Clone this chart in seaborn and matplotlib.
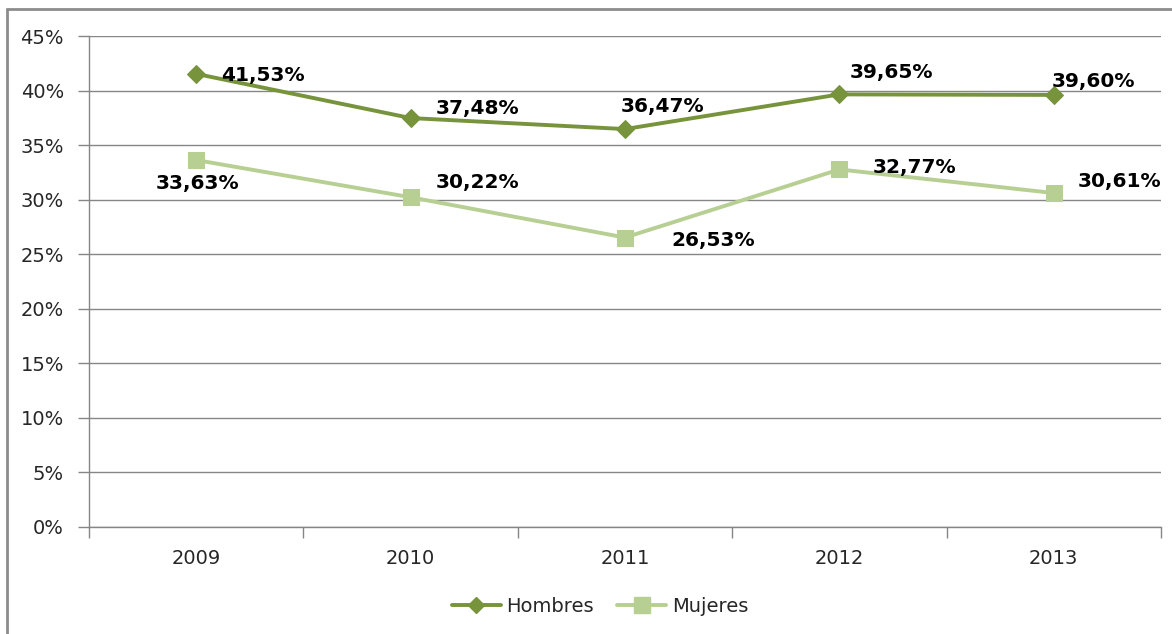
import pandas as pd
import matplotlib.pyplot as plt
import seaborn as sns
from matplotlib.lines import Line2D
from matplotlib.ticker import FixedLocator

# Data
years = ['2009', '2010', '2011', '2012', '2013']
hombres = [41.53, 37.48, 36.47, 39.65, 39.60]
mujeres = [33.63, 30.22, 26.53, 32.77, 30.61]

dark_green = '#77933C'
light_green = '#B7CF93'

sns.set_style('white')
plt.rcParams['font.family'] = ['DejaVu Sans']

fig = plt.figure(figsize=(11.72, 6.34), dpi=100)
W, H = 1172, 634
ax = fig.add_axes([89 / W, (H - 527) / H, (1161 - 89) / W, (527 - 36) / H])

x = list(range(len(years)))
df = pd.DataFrame({'x': x, 'Hombres': hombres, 'Mujeres': mujeres})

sns.lineplot(data=df, x='x', y='Hombres', ax=ax, color=dark_green, linewidth=2.8,
             marker='D', markersize=9, markeredgecolor=dark_green, label='Hombres')
sns.lineplot(data=df, x='x', y='Mujeres', ax=ax, color=light_green, linewidth=2.8,
             marker='s', markersize=12, markeredgecolor=light_green, label='Mujeres')

#Data labels (offsets in pixels)
off_h = [(67, -2), (67, 10), (37, 23), (52, 22), (40, 13)]
off_m = [(1, -23), (67, 15), (88, -3), (75, 2), (66, 12)]
for i, v in enumerate(hombres):
    ax.annotate(f'{v:.2f}%'.replace('.', ','), (i, v), textcoords='offset pixels',
                xytext=off_h[i], ha='center', va='center', fontsize=14.5,
                fontweight='bold', color='black')
for i, v in enumerate(mujeres):
    ax.annotate(f'{v:.2f}%'.replace('.', ','), (i, v), textcoords='offset pixels',
                xytext=off_m[i], ha='center', va='center', fontsize=14.5,
                fontweight='bold', color='black')

ax.set_xlim(-0.5, 4.5)
ax.set_ylim(0, 45)
ax.set_yticks(range(0, 46, 5))
ax.set_yticklabels([f'{t}%' for t in range(0, 46, 5)])
ax.set_xticks(x)
ax.set_xticklabels(years)
ax.xaxis.set_minor_locator(FixedLocator([i - 0.5 for i in range(len(years) + 1)]))
ax.tick_params(axis='x', which='major', length=0, pad=16, labelsize=14, labelcolor='#262626')
ax.tick_params(axis='x', which='minor', length=8, color='#868686', width=1, direction='out',
               bottom=True)
ax.tick_params(axis='y', length=8, color='#868686', width=1, direction='out', pad=10,
               labelsize=14, labelcolor='#262626', left=True)
ax.grid(axis='y', color='#868686', linewidth=1)
ax.set_axisbelow(True)
ax.set_xlabel('')
ax.set_ylabel('')
for s in ['top', 'right']:
    ax.spines[s].set_visible(False)
for s in ['left', 'bottom']:
    ax.spines[s].set_color('#868686')
    ax.spines[s].set_linewidth(1)

ax.get_legend().remove()
handles = [Line2D([], [], color=dark_green, linewidth=2.8, marker='D', markersize=8),
           Line2D([], [], color=light_green, linewidth=2.8, marker='s', markersize=11)]
fig.legend(handles, ['Hombres', 'Mujeres'], loc='center', bbox_to_anchor=(0.512, 1 - 606 / H),
           ncol=2, frameon=False, fontsize=14, handlelength=2.5, columnspacing=1.2,
           handletextpad=0.3, labelcolor='#262626')

#Outer chart frame
fig.add_artist(Line2D([7 / W, 7 / W], [0, 1 - 9 / H], color='#8c8c8c', linewidth=2,
                      transform=fig.transFigure))
fig.add_artist(Line2D([7 / W, 1], [1 - 9 / H, 1 - 9 / H], color='#8c8c8c', linewidth=2,
                      transform=fig.transFigure))

fig.savefig('out.png', dpi=100)
